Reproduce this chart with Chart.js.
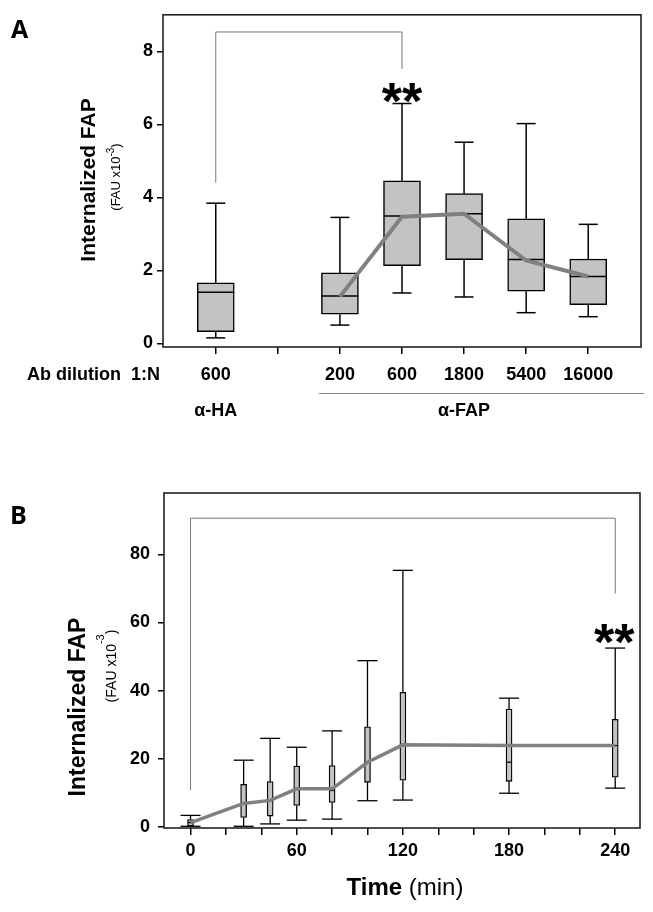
<!DOCTYPE html>
<html><head><meta charset="utf-8">
<script src="https://cdn.jsdelivr.net/npm/chart.js@4.4.0/dist/chart.umd.min.js"></script>
<style>
html,body{margin:0;padding:0;background:#fff;}
#wrap{position:relative;width:653px;height:912px;overflow:hidden;}
canvas{position:absolute;left:0;}
#ca{top:0;} #cb{top:450px;}
</style></head><body>
<div id="wrap"><canvas id="ca" width="653" height="450"></canvas><canvas id="cb" width="653" height="462"></canvas></div>
<script>
// ---------- Panel A data ----------
const catLabelsA = ['600', '', '200', '600', '1800', '5400', '16000'];
const boxPosA = [0, 2, 3, 4, 5, 6];
const minA = [0.15, 0.50, 1.38, 1.27, 0.84, 0.73];
const q1A  = [0.32, 0.80, 2.13, 2.29, 1.43, 1.06];
const medA = [1.40, 1.30, 3.49, 3.55, 2.30, 1.83];
const q3A  = [1.66, 1.93, 4.45, 4.10, 3.41, 2.31];
const maxA = [3.84, 3.45, 6.57, 5.51, 6.02, 3.26];
const trendPosA = [2, 3, 4, 5, 6];
const trendA = [1.28, 3.47, 3.55, 2.27, 1.83];
const yTicksA = [0, 2, 4, 6, 8];

// ---------- Panel B data ----------
const timeB = [0, 30, 45, 60, 80, 100, 120, 180, 240];
const minB = [0.2, 0.2, 0.9, 2.0, 2.3, 7.7, 7.9, 9.9, 11.4];
const q1B  = [0.3, 2.8, 3.2, 6.3, 7.2, 13.1, 13.7, 13.4, 14.6];
const medB = [1.3, 6.9, 7.8, 11.2, 10.7, 19.0, 24.1, 19.0, 23.9];
const q3B  = [2.2, 12.5, 13.3, 17.9, 18.0, 29.4, 39.5, 34.6, 31.6];
const maxB = [3.4, 19.6, 26.0, 23.4, 28.2, 48.8, 75.3, 37.8, 52.5];
const trendB = [1.3, 6.9, 7.8, 11.2, 11.2, 19.0, 24.1, 23.9, 23.9];
const xTicksB = [0, 20, 40, 60, 80, 100, 120, 140, 160, 180, 200, 220, 240];
const xLabelsB = [0, 60, 120, 180, 240];
const yTicksB = [0, 20, 40, 60, 80];

const NARROW = '"Liberation Sans Narrow", "Liberation Sans", Arial, sans-serif';
const SANS = '"Liberation Sans", Arial, sans-serif';

function line(ctx, x1, y1, x2, y2) {
  ctx.beginPath(); ctx.moveTo(x1, y1); ctx.lineTo(x2, y2); ctx.stroke();
}

function boxPlugin(id, pos, mn, q1, md, q3, mx, capW, lw) {
  return {
    id: id,
    afterDatasetDraw(chart, args) {
      if (args.index !== 0) return;
      const xs = chart.scales.x, ys = chart.scales.y, ctx = chart.ctx;
      const bars = chart.getDatasetMeta(0).data;
      ctx.save();
      ctx.strokeStyle = '#000'; ctx.lineWidth = lw;
      pos.forEach((p, i) => {
        const x = xs.getPixelForValue(p);
        const bw = bars[i].width;
        const yMin = ys.getPixelForValue(mn[i]), yQ1 = ys.getPixelForValue(q1[i]);
        const yMed = ys.getPixelForValue(md[i]), yQ3 = ys.getPixelForValue(q3[i]);
        const yMax = ys.getPixelForValue(mx[i]);
        line(ctx, x, yQ3, x, yMax);
        line(ctx, x, yQ1, x, yMin);
        line(ctx, x - capW / 2, yMax, x + capW / 2, yMax);
        line(ctx, x - capW / 2, yMin, x + capW / 2, yMin);
        line(ctx, x - bw / 2, yMed, x + bw / 2, yMed);
      });
      ctx.restore();
    }
  };
}

function framePlugin(id) {
  return {
    id: id,
    afterDraw(chart) {
      const a = chart.chartArea, ctx = chart.ctx;
      ctx.save(); ctx.strokeStyle = '#222'; ctx.lineWidth = 1.6;
      ctx.strokeRect(a.left, a.top, a.right - a.left, a.bottom - a.top);
      ctx.restore();
    }
  };
}

function drawYTitle(ctx, cx, cy, size, subX, subCy, subSize, supSize, supRaise) {
  ctx.save();
  ctx.fillStyle = '#000';
  ctx.translate(cx, cy); ctx.rotate(-Math.PI / 2);
  ctx.font = 'bold ' + size + 'px ' + SANS;
  ctx.textAlign = 'center'; ctx.textBaseline = 'middle';
  ctx.fillText('Internalized FAP', 0, 0);
  ctx.restore();
  ctx.save();
  ctx.fillStyle = '#000';
  ctx.translate(subX, subCy); ctx.rotate(-Math.PI / 2);
  ctx.textBaseline = 'middle'; ctx.textAlign = 'left';
  const f1 = subSize + 'px ' + SANS, f2 = supSize + 'px ' + SANS;
  ctx.font = f1; const w1 = ctx.measureText('(FAU x10').width;
  const w3 = ctx.measureText(')').width;
  ctx.font = f2; const w2 = ctx.measureText('-3').width;
  let x = -(w1 + w2 + w3) / 2;
  ctx.font = f1; ctx.fillText('(FAU x10', x, 0); x += w1;
  ctx.font = f2; ctx.fillText('-3', x, -supRaise); x += w2;
  ctx.font = f1; ctx.fillText(')', x, 0);
  ctx.restore();
}

// ---------------- Chart A ----------------
const annA = {
  id: 'annA',
  afterDraw(chart) {
    const ctx = chart.ctx, xs = chart.scales.x, ys = chart.scales.y;
    ctx.save();
    ctx.fillStyle = '#000';
    ctx.font = 'bold 25px "Open Sans", ' + SANS;
    ctx.textAlign = 'left'; ctx.textBaseline = 'alphabetic';
    ctx.fillText('A', 11, 38);
    // significance bracket
    ctx.strokeStyle = '#777'; ctx.lineWidth = 1;
    const xl = xs.getPixelForValue(0), xr = xs.getPixelForValue(3);
    const yt = ys.getPixelForValue(8.53);
    ctx.beginPath();
    ctx.moveTo(xl, ys.getPixelForValue(4.4)); ctx.lineTo(xl, yt);
    ctx.lineTo(xr, yt); ctx.lineTo(xr, ys.getPixelForValue(7.52));
    ctx.stroke();
    ctx.font = 'bold 52px ' + SANS; ctx.textAlign = 'center';
    ctx.fillText('**', xr, 119);
    // x row label
    ctx.font = 'bold 18px ' + NARROW; ctx.textAlign = 'left'; ctx.textBaseline = 'middle';
    ctx.fillText('Ab dilution  1:N', 27, 375);
    // group line and group names
    ctx.strokeStyle = '#888'; ctx.lineWidth = 1;
    line(ctx, xs.getPixelForValue(1.66), 393.5, 644, 393.5);
    ctx.font = 'bold 18px ' + NARROW; ctx.textAlign = 'center';
    ctx.fillText('\u03b1-HA', xs.getPixelForValue(0), 411);
    ctx.fillText('\u03b1-FAP', xs.getPixelForValue(4), 411);
    ctx.restore();
    drawYTitle(ctx, 89, 180, 21, 116, 177, 13, 10, 5);
  }
};

new Chart(document.getElementById('ca'), {
  type: 'bar',
  data: {
    datasets: [
      {
        type: 'bar', order: 1,
        data: boxPosA.map((p, i) => ({ x: p, y: [q1A[i], q3A[i]] })),
        backgroundColor: '#c3c3c3', borderColor: '#000', borderWidth: 1.5,
        borderSkipped: false, barThickness: 37
      },
      {
        type: 'line', order: 0,
        data: trendPosA.map((p, i) => ({ x: p, y: trendA[i] })),
        borderColor: '#808080', borderWidth: 4, pointRadius: 0, tension: 0, fill: false
      }
    ]
  },
  options: {
    responsive: false, animation: false, devicePixelRatio: 1,
    layout: { padding: { left: 0, right: 12, top: 13, bottom: 0 } },
    plugins: { legend: { display: false }, tooltip: { enabled: false } },
    scales: {
      x: {
        type: 'linear', min: -0.85, max: 6.85, offset: false,
        afterBuildTicks: s => { s.ticks = catLabelsA.map((_, i) => ({ value: i })); },
        afterFit: s => { s.height = 103; },
        border: { display: false },
        grid: { offset: false, drawOnChartArea: false, drawTicks: true, tickLength: 7, color: '#000', lineWidth: 1.5 },
        ticks: { callback: v => catLabelsA[v], color: '#000', padding: 10, maxRotation: 0,
                 autoSkip: false, font: { family: NARROW, size: 18, weight: 'bold' } }
      },
      y: {
        type: 'linear', min: -0.1, max: 9.0,
        afterBuildTicks: s => { s.ticks = yTicksA.map(v => ({ value: v })); },
        afterFit: s => { s.width = 163; },
        border: { display: false },
        grid: { drawOnChartArea: false, drawTicks: true, tickLength: 6, color: '#000', lineWidth: 1.5 },
        ticks: { color: '#000', padding: 4, font: { family: NARROW, size: 18, weight: 'bold' } }
      }
    }
  },
  plugins: [boxPlugin('boxA', boxPosA, minA, q1A, medA, q3A, maxA, 19, 1.5), framePlugin('frA'), annA]
});

// ---------------- Chart B ----------------
const annB = {
  id: 'annB',
  afterDraw(chart) {
    const ctx = chart.ctx, xs = chart.scales.x, ys = chart.scales.y;
    ctx.save();
    ctx.fillStyle = '#000';
    ctx.font = 'bold 25px "Open Sans", ' + SANS;
    ctx.textAlign = 'left'; ctx.textBaseline = 'alphabetic';
    ctx.fillText('B', 10, 74);
    ctx.strokeStyle = '#777'; ctx.lineWidth = 1;
    const xl = xs.getPixelForValue(0), xr = xs.getPixelForValue(240);
    const yt = ys.getPixelForValue(90.6);
    ctx.beginPath();
    ctx.moveTo(xl, ys.getPixelForValue(10.8)); ctx.lineTo(xl, yt);
    ctx.lineTo(xr, yt); ctx.lineTo(xr, ys.getPixelForValue(68.5));
    ctx.stroke();
    ctx.font = 'bold 52px ' + SANS; ctx.textAlign = 'center';
    ctx.fillText('**', xr - 1, 210);
    // x title
    ctx.textBaseline = 'middle'; ctx.textAlign = 'left';
    const f1 = 'bold 24px ' + NARROW, f2 = '24px ' + NARROW;
    ctx.font = f1; const w1 = ctx.measureText('Time').width;
    ctx.font = f2; const w2 = ctx.measureText(' (min)').width;
    let x = 405 - (w1 + w2) / 2;
    ctx.font = f1; ctx.fillText('Time', x, 438);
    ctx.font = f2; ctx.fillText(' (min)', x + w1, 438);
    ctx.restore();
    drawYTitle(ctx, 79, 257, 23, 112, 216, 14, 11, 11);
  }
};

new Chart(document.getElementById('cb'), {
  type: 'bar',
  data: {
    datasets: [
      {
        type: 'bar', order: 1,
        data: timeB.map((t, i) => ({ x: t, y: [q1B[i], q3B[i]] })),
        backgroundColor: '#c3c3c3', borderColor: '#000', borderWidth: 1.3,
        borderSkipped: false, barThickness: 6
      },
      {
        type: 'line', order: 0,
        data: timeB.map((t, i) => ({ x: t, y: trendB[i] })),
        borderColor: '#808080', borderWidth: 3.5, pointRadius: 0, tension: 0, fill: false
      }
    ]
  },
  options: {
    responsive: false, animation: false, devicePixelRatio: 1,
    layout: { padding: { left: 0, right: 13, top: 43, bottom: 0 } },
    plugins: { legend: { display: false }, tooltip: { enabled: false } },
    scales: {
      x: {
        type: 'linear', min: -15, max: 254, offset: false,
        afterBuildTicks: s => { s.ticks = xTicksB.map(v => ({ value: v })); },
        afterFit: s => { s.height = 84; },
        border: { display: false },
        grid: { offset: false, drawOnChartArea: false, drawTicks: true, tickLength: 7, color: '#000', lineWidth: 1.5 },
        ticks: { callback: v => (xLabelsB.includes(v) ? String(v) : ''), color: '#000', padding: 5,
                 maxRotation: 0, autoSkip: false, font: { family: NARROW, size: 18, weight: 'bold' } }
      },
      y: {
        type: 'linear', min: -0.3, max: 98,
        afterBuildTicks: s => { s.ticks = yTicksB.map(v => ({ value: v })); },
        afterFit: s => { s.width = 164; },
        border: { display: false },
        grid: { drawOnChartArea: false, drawTicks: true, tickLength: 6, color: '#000', lineWidth: 1.5 },
        ticks: { color: '#000', padding: 8, font: { family: NARROW, size: 18, weight: 'bold' } }
      }
    }
  },
  plugins: [boxPlugin('boxB', timeB, minB, q1B, medB, q3B, maxB, 20, 1.3), framePlugin('frB'), annB]
});
</script>
</body></html>
